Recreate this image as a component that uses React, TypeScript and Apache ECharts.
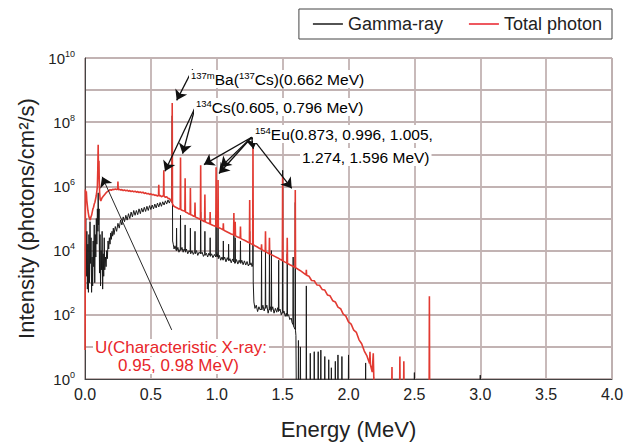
import React, { useEffect, useRef } from "react";
import * as echarts from "echarts";

// Series names (legend)
const seriesNames = ["Gamma-ray", "Total photon"];

// X axis ticks (MeV)
const energyTicks = [0, 0.5, 1.0, 1.5, 2.0, 2.5, 3.0, 3.5, 4.0];

// Gamma-ray spectrum: [energy MeV, log10 intensity (photons/cm2/s)]
const gammaRay: number[][] = [
  [0.003, 4.0], [0.006, 5.0], [0.010, 3.2], [0.014, 4.6], [0.018, 2.8], [0.022, 4.2], [0.026, 2.7], [0.030, 4.5],
  [0.034, 3.0], [0.038, 4.9], [0.042, 3.6], [0.046, 4.4], [0.050, 2.7], [0.054, 3.8], [0.058, 2.9], [0.062, 4.3],
  [0.066, 3.5], [0.070, 4.8], [0.074, 3.0], [0.078, 4.5], [0.082, 3.8], [0.086, 5.0], [0.090, 4.2], [0.094, 5.3],
  [0.098, 4.6], [0.100, 5.8], [0.103, 4.8], [0.107, 5.3], [0.110, 3.3], [0.114, 4.5], [0.118, 2.9], [0.122, 4.0],
  [0.126, 3.4], [0.130, 4.6], [0.134, 2.8], [0.138, 3.9], [0.142, 3.2], [0.146, 4.4], [0.150, 3.4], [0.155, 3.8],
  [0.160, 3.5], [0.165, 4.0], [0.170, 3.75], [0.175, 4.3], [0.180, 4.05], [0.185, 4.4], [0.190, 4.2], [0.195, 4.55],
  [0.200, 4.35], [0.205, 4.6], [0.210, 4.45], [0.215, 4.7], [0.220, 4.5], [0.230, 4.75], [0.240, 4.6], [0.250, 4.85],
  [0.260, 4.7], [0.270, 4.95], [0.280, 4.8], [0.290, 5.05], [0.300, 4.9], [0.310, 5.1], [0.320, 4.95], [0.330, 5.15],
  [0.340, 5.0], [0.350, 5.2], [0.360, 5.05], [0.370, 5.25], [0.380, 5.1], [0.390, 5.25], [0.400, 5.12], [0.410, 5.3],
  [0.420, 5.15], [0.430, 5.32], [0.440, 5.2], [0.450, 5.35], [0.460, 5.22], [0.470, 5.38], [0.480, 5.25], [0.490, 5.4],
  [0.500, 5.28], [0.510, 5.42], [0.520, 5.3], [0.530, 5.45], [0.540, 5.33], [0.550, 5.48], [0.560, 5.36], [0.570, 5.5],
  [0.580, 5.38], [0.590, 5.52], [0.600, 5.42], [0.610, 5.55], [0.620, 5.45], [0.630, 5.58], [0.640, 5.48], [0.650, 5.6],
  [0.658, 5.5], [0.662, 8.2], [0.665, 4.3], [0.670, 4.2], [0.676, 4.05], [0.683, 4.15], [0.693, 4.0], [0.695, 4.7],
  [0.697, 4.0], [0.705, 4.1], [0.713, 3.95], [0.723, 4.05], [0.725, 5.1], [0.727, 4.0], [0.736, 4.1], [0.745, 3.95],
  [0.752, 4.05], [0.758, 4.0], [0.760, 4.8], [0.762, 3.95], [0.770, 4.05], [0.780, 3.9], [0.790, 4.0], [0.798, 3.95],
  [0.800, 4.7], [0.802, 3.9], [0.812, 4.0], [0.822, 3.88], [0.833, 3.98], [0.835, 4.6], [0.837, 3.9], [0.846, 4.0],
  [0.856, 3.85], [0.866, 3.95], [0.876, 3.9], [0.878, 5.2], [0.880, 3.9], [0.889, 3.95], [0.899, 3.82], [0.908, 3.9],
  [0.910, 4.6], [0.912, 3.85], [0.921, 3.92], [0.931, 3.8], [0.940, 3.92], [0.948, 3.85], [0.950, 4.4], [0.952, 3.82],
  [0.961, 3.9], [0.971, 3.78], [0.982, 3.88], [0.993, 3.8], [0.995, 5.1], [0.997, 3.82], [1.003, 3.9], [1.008, 3.8],
  [1.010, 4.8], [1.012, 3.75], [1.020, 3.85], [1.030, 3.7], [1.040, 3.8], [1.048, 3.7], [1.050, 4.3], [1.052, 3.72],
  [1.060, 3.8], [1.070, 3.65], [1.080, 3.78], [1.088, 3.7], [1.090, 4.2], [1.092, 3.68], [1.100, 3.75], [1.110, 3.62],
  [1.120, 3.74], [1.128, 3.65], [1.130, 4.7], [1.132, 3.68], [1.138, 3.6], [1.140, 4.4], [1.142, 3.62], [1.150, 3.72],
  [1.160, 3.58], [1.170, 3.7], [1.178, 3.62], [1.180, 4.3], [1.182, 3.6], [1.190, 3.7], [1.200, 3.56], [1.210, 3.68],
  [1.220, 3.55], [1.230, 3.66], [1.240, 3.52], [1.248, 3.6], [1.250, 4.6], [1.252, 3.55], [1.260, 3.62], [1.268, 3.5],
  [1.273, 3.55], [1.275, 5.1], [1.277, 3.0], [1.282, 2.4], [1.290, 2.2], [1.300, 2.3], [1.310, 2.1], [1.320, 2.25],
  [1.330, 2.15], [1.338, 2.2], [1.340, 4.0], [1.342, 2.15], [1.350, 2.3], [1.360, 2.12], [1.368, 2.25], [1.370, 4.1],
  [1.372, 2.2], [1.380, 2.3], [1.390, 2.05], [1.398, 2.2], [1.400, 3.9], [1.402, 2.15], [1.408, 2.25], [1.413, 2.1],
  [1.415, 4.0], [1.417, 2.15], [1.425, 2.25], [1.435, 2.05], [1.445, 2.2], [1.455, 2.08], [1.462, 2.22], [1.468, 2.1],
  [1.470, 3.7], [1.472, 2.12], [1.480, 2.18], [1.490, 2.0], [1.498, 2.1], [1.500, 6.5], [1.502, 2.05], [1.510, 2.12],
  [1.520, 1.95], [1.528, 2.05], [1.533, 1.95], [1.535, 3.9], [1.537, 1.98], [1.545, 2.0], [1.555, 1.85], [1.565, 1.9],
  [1.572, 1.75], [1.578, 1.7], [1.580, 3.8], [1.582, 1.65], [1.588, 1.6], [1.594, 1.55], [1.596, 5.5], [1.598, 1.5],
  [1.601, 1.35], [1.604, -0.5], [1.618, -0.5], [1.620, 1.2], [1.622, -0.5], [1.633, -0.5], [1.635, 1.0], [1.637, -0.5],
  [1.678, -0.5], [1.680, 2.9], [1.682, -0.5], [1.708, -0.5], [1.710, 0.8], [1.712, -0.5], [1.738, -0.5], [1.740, 0.85],
  [1.742, -0.5], [1.768, -0.5], [1.770, 0.85], [1.772, -0.5], [1.788, -0.5], [1.790, 0.9], [1.792, -0.5], [1.818, -0.5],
  [1.820, 0.7], [1.822, -0.5], [1.848, -0.5], [1.850, 0.6], [1.852, -0.5], [1.868, -0.5], [1.870, 0.35], [1.872, -0.5],
  [1.898, -0.5], [1.900, 0.55], [1.902, -0.5], [1.918, -0.5], [1.920, 0.75], [1.922, -0.5], [1.948, -0.5], [1.950, 0.7],
  [1.952, -0.5], [1.998, -0.5], [2.000, 0.75], [2.002, -0.5], [2.128, -0.5], [2.130, 0.5], [2.132, -0.5], [2.498, -0.5],
  [2.500, 0.2], [2.502, -0.5], [2.998, -0.5], [3.000, 0.12], [3.002, -0.5], [4.0, -0.5],
];

// Total photon spectrum: [energy MeV, log10 intensity]
const totalPhoton: number[][] = [
  [0.001, 0.9], [0.003, 5.9], [0.006, 5.7], [0.010, 5.85], [0.014, 5.55], [0.018, 5.4], [0.022, 5.25], [0.026, 5.15],
  [0.030, 5.05], [0.035, 5.0], [0.040, 4.95], [0.045, 5.05], [0.050, 5.1], [0.055, 5.2], [0.060, 5.3], [0.065, 5.35],
  [0.070, 5.45], [0.075, 5.5], [0.080, 5.6], [0.085, 5.7], [0.090, 5.85], [0.094, 6.0], [0.097, 6.5], [0.100, 7.3],
  [0.102, 6.6], [0.104, 6.3], [0.106, 6.8], [0.108, 6.2], [0.111, 5.8], [0.115, 5.6], [0.120, 5.55], [0.125, 5.6],
  [0.130, 5.65], [0.140, 5.7], [0.150, 5.75], [0.160, 5.8], [0.170, 5.84], [0.180, 5.86], [0.190, 5.9], [0.200, 5.88],
  [0.210, 5.91], [0.220, 5.9], [0.230, 5.92], [0.240, 5.9], [0.248, 5.92], [0.250, 6.15], [0.252, 5.9], [0.260, 5.91],
  [0.270, 5.89], [0.280, 5.9], [0.290, 5.87], [0.300, 5.89], [0.310, 5.86], [0.320, 5.88], [0.330, 5.85], [0.340, 5.87],
  [0.350, 5.84], [0.360, 5.86], [0.370, 5.83], [0.380, 5.85], [0.390, 5.82], [0.400, 5.84], [0.410, 5.81], [0.420, 5.83],
  [0.430, 5.8], [0.440, 5.82], [0.450, 5.78], [0.460, 5.8], [0.470, 5.77], [0.480, 5.78], [0.490, 5.75], [0.500, 5.77],
  [0.510, 5.74], [0.520, 5.75], [0.530, 5.72], [0.540, 5.73], [0.550, 5.7], [0.558, 5.72], [0.560, 6.05], [0.562, 5.7],
  [0.570, 5.72], [0.580, 5.68], [0.590, 5.7], [0.596, 5.72], [0.598, 6.5], [0.600, 5.7], [0.610, 5.66], [0.620, 5.68],
  [0.630, 5.63], [0.640, 5.62], [0.650, 5.58], [0.658, 5.55], [0.660, 5.5], [0.662, 8.6], [0.664, 5.45], [0.675, 5.38],
  [0.685, 5.36], [0.700, 5.33], [0.710, 5.3], [0.723, 5.3], [0.725, 6.9], [0.727, 5.28], [0.740, 5.25], [0.750, 5.24],
  [0.758, 5.22], [0.760, 6.25], [0.762, 5.2], [0.775, 5.18], [0.785, 5.15], [0.798, 5.13], [0.800, 5.95], [0.802, 5.12],
  [0.815, 5.1], [0.825, 5.07], [0.833, 5.06], [0.835, 5.5], [0.837, 5.05], [0.850, 5.02], [0.862, 5.0], [0.876, 4.97],
  [0.878, 6.66], [0.880, 4.96], [0.895, 4.93], [0.908, 4.9], [0.910, 5.75], [0.912, 4.9], [0.925, 4.87], [0.938, 4.85],
  [0.948, 4.83], [0.950, 5.2], [0.952, 4.82], [0.965, 4.8], [0.980, 4.77], [0.993, 4.76], [0.995, 6.6], [0.997, 4.75],
  [1.008, 4.73], [1.010, 6.2], [1.012, 4.72], [1.025, 4.7], [1.038, 4.67], [1.048, 4.65], [1.050, 4.85], [1.052, 4.64],
  [1.065, 4.61], [1.080, 4.58], [1.095, 4.55], [1.110, 4.52], [1.128, 4.49], [1.130, 5.17], [1.132, 4.48], [1.138, 4.47],
  [1.140, 4.9], [1.142, 4.46], [1.155, 4.43], [1.168, 4.41], [1.178, 4.39], [1.180, 4.75], [1.182, 4.38], [1.195, 4.35],
  [1.210, 4.32], [1.225, 4.29], [1.238, 4.26], [1.248, 4.24], [1.250, 5.58], [1.252, 4.23], [1.262, 4.21], [1.273, 4.19],
  [1.275, 7.37], [1.277, 4.18], [1.290, 4.15], [1.305, 4.12], [1.320, 4.08], [1.338, 4.04], [1.340, 4.2], [1.342, 4.03],
  [1.355, 4.0], [1.368, 3.97], [1.370, 4.6], [1.372, 3.96], [1.385, 3.93], [1.398, 3.9], [1.400, 4.4], [1.402, 3.9],
  [1.420, 3.86], [1.440, 3.82], [1.460, 3.78], [1.480, 3.73], [1.498, 3.69], [1.500, 6.3], [1.502, 3.68], [1.515, 3.65],
  [1.533, 3.61], [1.535, 4.4], [1.537, 3.6], [1.555, 3.56], [1.575, 3.52], [1.594, 3.48], [1.596, 5.89], [1.598, 3.47],
  [1.620, 3.41], [1.640, 3.36], [1.660, 3.3], [1.678, 3.24], [1.680, 3.4], [1.682, 3.23], [1.700, 3.2], [1.720, 3.07],
  [1.740, 3.06], [1.760, 2.93], [1.780, 2.92], [1.800, 2.79], [1.820, 2.77], [1.840, 2.62], [1.860, 2.59], [1.880, 2.44],
  [1.900, 2.4], [1.920, 2.24], [1.940, 2.19], [1.960, 2.02], [1.980, 1.96], [2.000, 1.78], [2.020, 1.71], [2.040, 1.52],
  [2.060, 1.45], [2.080, 1.22], [2.100, 1.1], [2.120, 0.87], [2.140, 0.72], [2.160, 0.48], [2.163, 0.85], [2.166, 0.45],
  [2.180, 0.22], [2.188, 0.8], [2.192, 0.05], [2.196, -0.5], [2.328, -0.5], [2.330, 0.37], [2.332, -0.5], [2.388, -0.5],
  [2.390, 0.7], [2.392, -0.5], [2.418, -0.5], [2.420, 0.55], [2.422, -0.5], [2.612, -0.5], [2.614, 2.58], [2.616, -0.5],
  [4.0, -0.5],
];

// Annotation arrows: [start, end] as [energy MeV, log10 intensity]
const baArrows = [[[0.817, 9.65], [0.696, 8.68]]];
const csArrows = [
  [[0.835, 8.45], [0.607, 6.47]],
  [[0.835, 8.45], [0.741, 7.02]],
];
const euArrows = [
  [[1.265, 7.53], [0.903, 6.68]],
  [[1.265, 7.53], [1.03, 6.6]],
  [[1.265, 7.53], [1.017, 6.4]],
  [[1.265, 7.53], [1.278, 7.17]],
  [[1.265, 7.53], [1.569, 5.94]],
];
const uArrows = [[[0.658, 1.53], [0.13, 6.3]]];

const FONT = "'Liberation Sans', Arial, Helvetica, sans-serif";
const toPairs = (arr: number[][]) => arr.map(([e, l]) => [e, Math.pow(10, l)]);

export default function App() {
  const ref = useRef<HTMLDivElement>(null);
  useEffect(() => {
    if (!ref.current) return;
    const chart = echarts.init(ref.current, null, { renderer: "svg" });

    const arrowItem = (a: number[][], width: number) => [
      { coord: [a[0][0], Math.pow(10, a[0][1])], symbol: "none", lineStyle: { color: "#111", width, type: "solid" } },
      { coord: [a[1][0], Math.pow(10, a[1][1])], symbol: "arrow" },
    ];
    const markData = [
      ...baArrows.map((a) => arrowItem(a, 1.3)),
      ...csArrows.map((a) => arrowItem(a, 1.3)),
      ...euArrows.map((a) => arrowItem(a, 1.3)),
      ...uArrows.map((a) => arrowItem(a, 0.9)),
    ];

    const supRich = {
      n: { fontFamily: FONT, fontSize: 15.5, color: "#222", lineHeight: 18 },
      sup: { fontFamily: FONT, fontSize: 9.5, color: "#222", lineHeight: 10, verticalAlign: "top" },
    };
    const redText = (text: string, left: number, top: number) => ({
      type: "text",
      left,
      top,
      z: 100,
      style: {
        text,
        fontFamily: FONT,
        fontSize: 17,
        lineHeight: 17,
        fill: "#e8262a",
        backgroundColor: "#fff",
        padding: [0, 2],
      },
    });

    chart.setOption({
      animation: false,
      textStyle: { fontFamily: FONT },
      legend: {
        data: seriesNames,
        right: 22,
        top: 9,
        icon: "rect",
        itemWidth: 30,
        itemHeight: 1.5,
        itemGap: 26,
        padding: [6, 10, 6, 14],
        borderColor: "#444",
        borderWidth: 1,
        textStyle: { fontFamily: FONT, fontSize: 18, color: "#222" },
      },
      grid: {
        left: 85,
        right: 22,
        top: 58,
        bottom: 62,
        show: true,
        borderColor: "#444",
        borderWidth: 1,
        backgroundColor: "transparent",
      },
      xAxis: {
        type: "value",
        min: 0,
        max: 4,
        interval: 0.5,
        name: "Energy (MeV)",
        nameLocation: "middle",
        nameGap: 39,
        nameTextStyle: { fontFamily: FONT, fontSize: 22, color: "#222" },
        axisLine: { lineStyle: { color: "#444" } },
        axisTick: { show: false },
        axisLabel: {
          fontFamily: FONT,
          fontSize: 16,
          color: "#222",
          margin: 7,
          formatter: (v: number) => (energyTicks.includes(v) ? v.toFixed(1) : ""),
        },
        splitLine: { show: true, lineStyle: { color: "#c2b3b3", width: 1.8 } },
      },
      yAxis: {
        type: "log",
        logBase: 10,
        min: 1,
        max: 1e10,
        interval: 1,
        name: "Intensity (photons/cm²/s)",
        nameLocation: "middle",
        nameGap: 43,
        nameTextStyle: { fontFamily: FONT, fontSize: 22, color: "#222" },
        axisLine: { show: true, lineStyle: { color: "#444" } },
        axisTick: { show: false },
        axisLabel: {
          margin: 10,
          formatter: (v: number) => {
            const k = Math.round(Math.log10(v));
            return k % 2 === 0 ? `{b|10}{s|${k}}` : "";
          },
          rich: {
            b: { fontFamily: FONT, fontSize: 15, color: "#222", lineHeight: 18 },
            s: { fontFamily: FONT, fontSize: 9, color: "#222", lineHeight: 9, verticalAlign: "top" },
          },
        },
        splitLine: { show: true, lineStyle: { color: "#c2b3b3", width: 1.8 } },
      },
      series: [
        {
          name: seriesNames[0],
          type: "line",
          data: toPairs(gammaRay),
          showSymbol: false,
          symbol: "none",
          clip: true,
          lineStyle: { color: "#1a1a1a", width: 1 },
          itemStyle: { color: "#1a1a1a" },
          z: 3,
        },
        {
          name: seriesNames[1],
          type: "line",
          data: toPairs(totalPhoton),
          showSymbol: false,
          symbol: "none",
          clip: true,
          lineStyle: { color: "#e23a32", width: 1.6 },
          itemStyle: { color: "#e8202a" },
          z: 4,
          markLine: {
            silent: true,
            animation: false,
            symbolSize: 10,
            label: { show: false },
            emphasis: { disabled: true },
            data: markData,
          },
        },
      ],
      graphic: [
        {
          type: "text",
          left: 189,
          top: 70,
          z: 100,
          style: {
            text: "{sup|137m}{n|Ba(}{sup|137}{n|Cs)(0.662 MeV)}",
            rich: supRich,
            backgroundColor: "#fff",
            padding: [0, 2],
          },
        },
        {
          type: "text",
          left: 194,
          top: 98,
          z: 100,
          style: {
            text: "{sup|134}{n|Cs(0.605, 0.796 MeV)}",
            rich: supRich,
            backgroundColor: "#fff",
            padding: [0, 2],
          },
        },
        {
          type: "text",
          left: 253,
          top: 125,
          z: 100,
          style: {
            text: "{sup|154}{n|Eu(0.873, 0.996, 1.005,}",
            rich: supRich,
            backgroundColor: "#fff",
            padding: [0, 2],
          },
        },
        {
          type: "text",
          left: 300,
          top: 148,
          z: 100,
          style: {
            text: "{n|1.274, 1.596 MeV)}",
            rich: supRich,
            backgroundColor: "#fff",
            padding: [0, 2],
          },
        },
        redText("U(Characteristic X-ray:", 93, 339),
        redText("0.95, 0.98 MeV)", 116, 357),
      ],
    });
    return () => chart.dispose();
  }, []);
  return (
    <div
      ref={ref}
      style={{ position: "fixed", left: 0, top: 0, width: 634, height: 445, background: "#fff" }}
    />
  );
}
